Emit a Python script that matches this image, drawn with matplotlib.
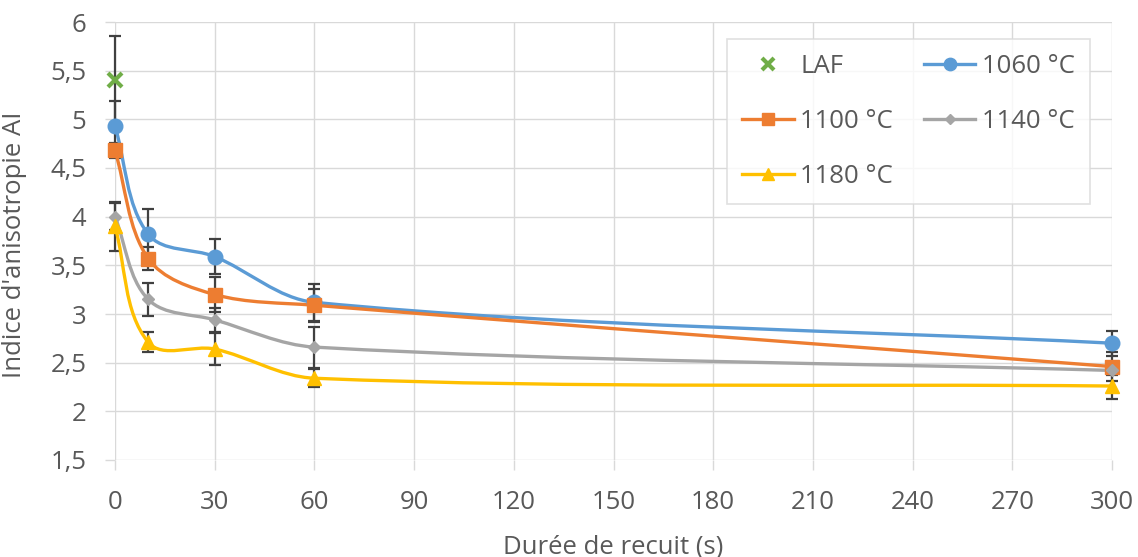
import numpy as np
import matplotlib
matplotlib.use("Agg")
import matplotlib.pyplot as plt
from matplotlib.path import Path
from matplotlib.patches import PathPatch
from matplotlib.lines import Line2D

plt.rcParams['font.family'] = ['Open Sans', 'DejaVu Sans']

# ---- data ----
times = [0, 10, 30, 60, 300]
laf_x = [0]
laf_y = [5.40]
laf_err = [0.46]

s1060 = [4.93, 3.82, 3.59, 3.12, 2.70]
e1060 = [0.26, 0.26, 0.18, 0.19, 0.13]
s1100 = [4.68, 3.57, 3.20, 3.09, 2.46]
e1100 = [0.08, 0.12, 0.18, 0.17, 0.15]
s1140 = [4.00, 3.15, 2.94, 2.66, 2.42]
e1140 = [0.14, 0.17, 0.12, 0.21, 0.05]
s1180 = [3.90, 2.71, 2.64, 2.34, 2.26]
e1180 = [0.25, 0.10, 0.16, 0.09, 0.13]

x_ticks = [0, 30, 60, 90, 120, 150, 180, 210, 240, 270, 300]
y_ticks = [1.5, 2, 2.5, 3, 3.5, 4, 4.5, 5, 5.5, 6]
y_ticklabels = ['1,5', '2', '2,5', '3', '3,5', '4', '4,5', '5', '5,5', '6']

labels = ['1060 °C', '1100 °C', '1140 °C', '1180 °C']
colors = ['#5B9BD5', '#ED7D31', '#A5A5A5', '#FFC000']
markers = ['o', 's', 'D', '^']
msizes = [10.5, 9.5, 6.5, 10]

TXT = '#595959'
GRID = '#D9D9D9'
ERR = '#404040'
FS = 18.5


def smooth_path(ax, x, y, k=0.33):
    """Smoothed (Excel-like) Bezier path through the data points,
    computed in display space and mapped back to data space."""
    pts = ax.transData.transform(np.column_stack([x, y]).astype(float))
    n = len(pts)
    tang = []
    for i in range(n):
        a = pts[max(i - 1, 0)]
        b = pts[min(i + 1, n - 1)]
        d = b - a
        tang.append(d / np.hypot(*d))
    verts = [pts[0]]
    codes = [Path.MOVETO]
    for i in range(n - 1):
        L = np.hypot(*(pts[i + 1] - pts[i]))
        c1 = pts[i] + tang[i] * L * k
        c2 = pts[i + 1] - tang[i + 1] * L * k
        verts += [c1, c2, pts[i + 1]]
        codes += [Path.CURVE4] * 3
    verts = ax.transData.inverted().transform(np.array(verts))
    return Path(verts, codes)


fig = plt.figure(figsize=(11.38, 5.57), dpi=100)
ax = fig.add_axes([115 / 1138, 1 - 460 / 557, 997 / 1138, 438 / 557])

ax.set_xlim(0, 300)
ax.set_ylim(1.5, 6)
ax.set_xticks(x_ticks)
ax.set_yticks(y_ticks)
ax.set_yticklabels(y_ticklabels)
ax.grid(True, color=GRID, lw=1.0, zorder=0)
ax.set_axisbelow(True)
for sp in ax.spines.values():
    sp.set_visible(False)
ax.tick_params(axis='both', color=GRID, length=7.5, width=1.0, labelcolor=TXT,
               labelsize=FS)
ax.tick_params(axis='y', pad=13)
ax.tick_params(axis='x', pad=14)

series = [s1060, s1100, s1140, s1180]
errs = [e1060, e1100, e1140, e1180]

# error bars
ax.errorbar(laf_x, laf_y, yerr=laf_err, fmt='none', ecolor=ERR, elinewidth=1.6,
            capsize=4, capthick=1.6, zorder=3, clip_on=False)
for s, e in zip(series, errs):
    ax.errorbar(times, s, yerr=e, fmt='none', ecolor=ERR, elinewidth=1.6,
                capsize=4, capthick=1.6, zorder=3, clip_on=False)

# smoothed lines + markers
for i, (s, c, m, ms) in enumerate(zip(series, colors, markers, msizes)):
    patch = PathPatch(smooth_path(ax, times, s), facecolor='none', edgecolor=c,
                      lw=2.4, zorder=4 + i * 0.1, clip_on=False,
                      capstyle='round', joinstyle='round')
    ax.add_patch(patch)
    ax.plot(times, s, ls='none', marker=m, ms=ms, color=c, mec=c,
            zorder=5 + i * 0.1, clip_on=False)

ax.plot(laf_x, laf_y, ls='none', marker='x', ms=10, mew=3, color='#70AD47',
        zorder=6, clip_on=False)

# legend
h_laf = Line2D([], [], ls='none', marker='x', ms=9, mew=3, color='#70AD47')
hs = [Line2D([], [], color=c, lw=2.4, marker=m, ms=ms * 0.85)
      for c, m, ms in zip(colors, markers, msizes)]
handles = [h_laf, hs[1], hs[3], hs[0], hs[2]]
leg_labels = ['LAF', labels[1], labels[3], labels[0], labels[2]]
leg = ax.legend(handles, leg_labels, ncol=2, loc='upper left',
                bbox_to_anchor=((727 - 115) / 997, (460 - 39) / 438),
                frameon=True, fancybox=False, edgecolor=GRID, fontsize=FS,
                labelcolor=TXT, handlelength=2.0, handletextpad=0.25,
                labelspacing=1.15, columnspacing=1.2, borderpad=0.6,
                borderaxespad=0)
leg.get_frame().set_linewidth(1.2)
leg.set_zorder(10)

ax.set_xlabel('Durée de recuit (s)', fontsize=FS, color=TXT)
ax.set_ylabel("Indice d'anisotropie AI", fontsize=FS, color=TXT)
ax.xaxis.set_label_coords((613 - 115) / 997, (460 - 553) / 438)
ax.xaxis.label.set_va('baseline')
ax.yaxis.set_label_coords((14 - 115) / 997, (460 - 245) / 438)
ax.yaxis.label.set_va('center')

fig.savefig('out.png', dpi=100, facecolor='white')
